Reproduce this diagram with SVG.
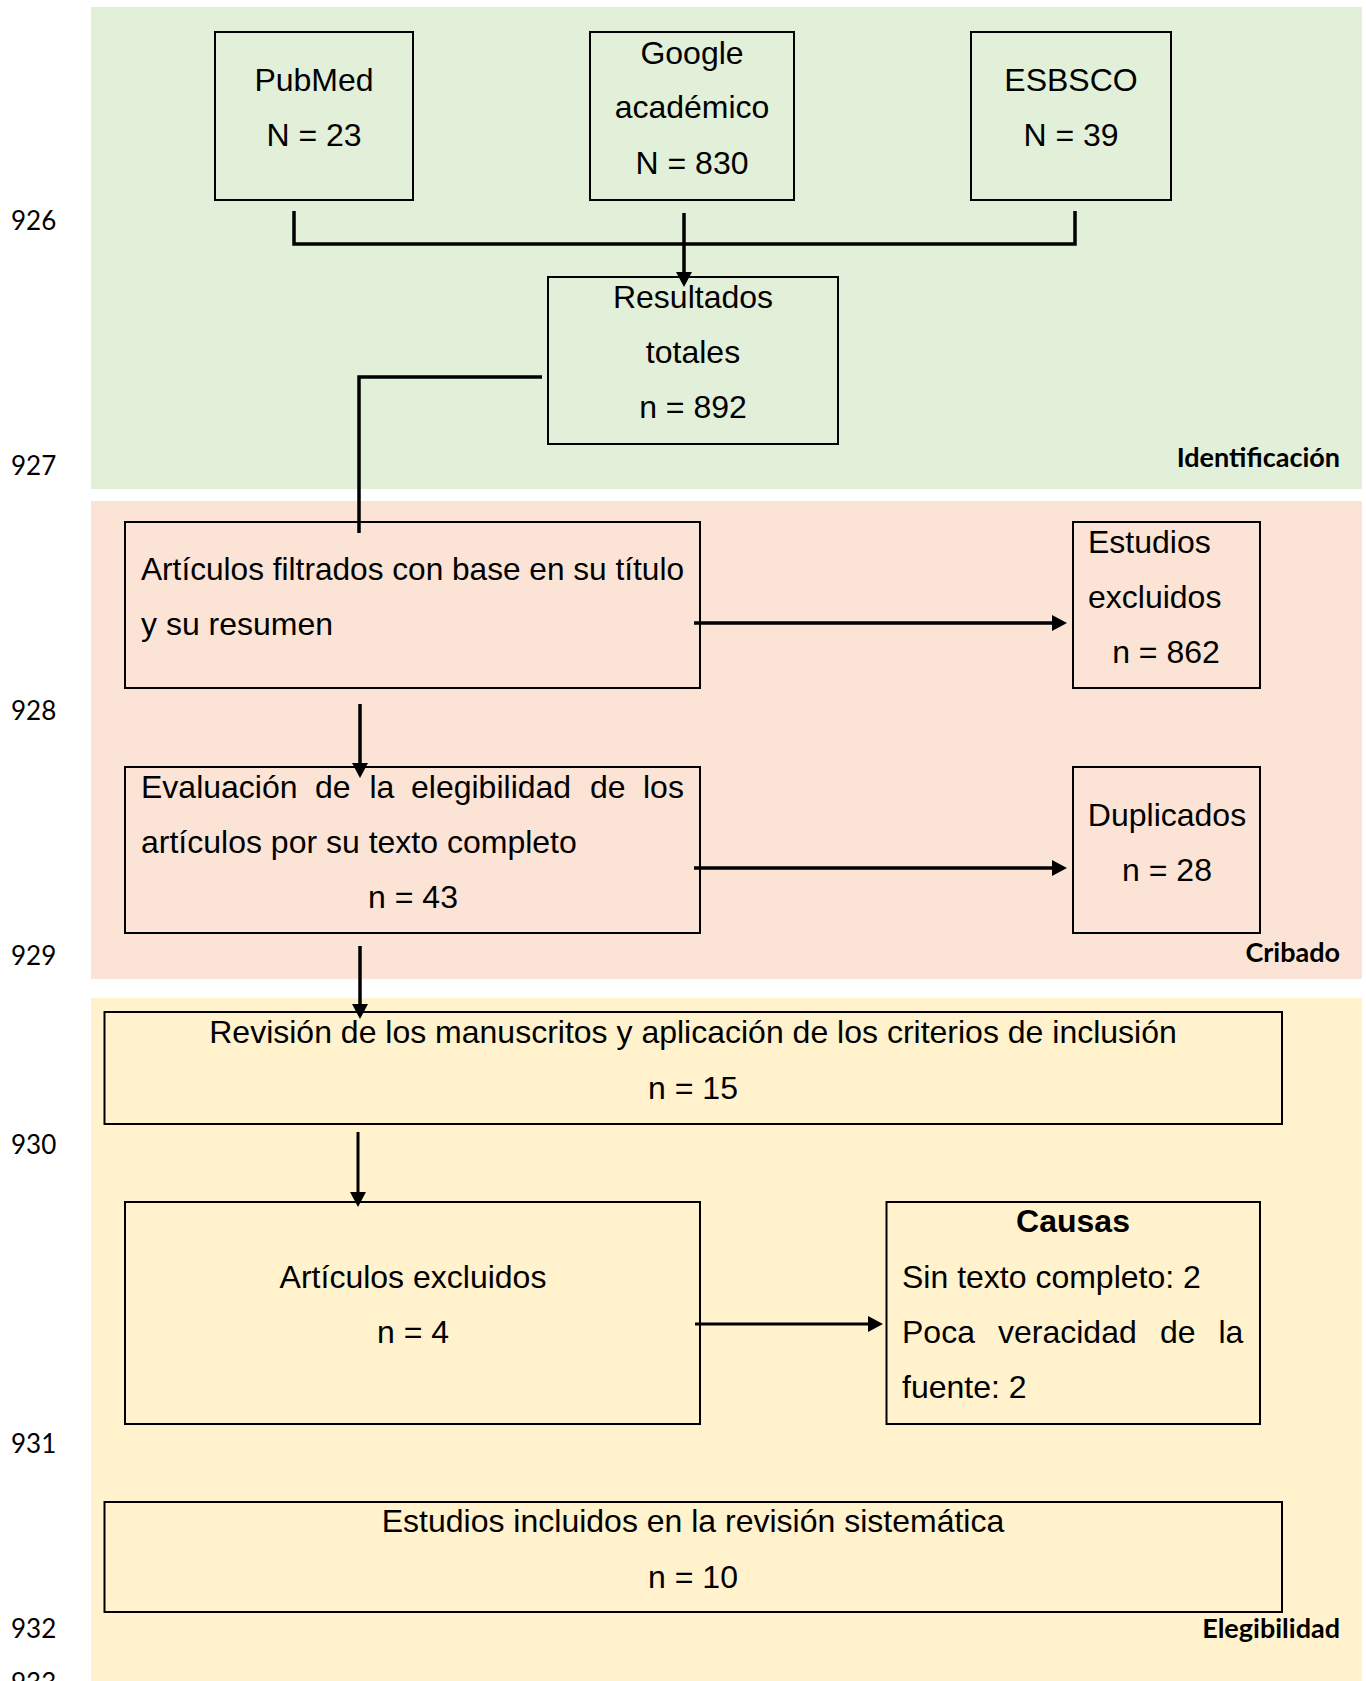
<svg xmlns="http://www.w3.org/2000/svg" width="1366" height="1681" viewBox="0 0 1366 1681">
<style>
.t{font-family:"Liberation Sans",Arial,sans-serif;font-size:32px;fill:#000}
.c{text-anchor:middle}
.b{font-weight:bold}
.lab{font-family:Lato,"Liberation Sans",sans-serif;font-size:27px;font-weight:bold;text-anchor:end;fill:#000}
.num{font-family:Lato,"Liberation Sans",sans-serif;font-size:26px;fill:#000}
.box{fill:none;stroke:#000;stroke-width:2}
.ln{fill:none;stroke:#000;stroke-width:3.5}
.ar{fill:none;stroke:#000;stroke-width:3.5;marker-end:url(#ah)}
.ar2{fill:none;stroke:#000;stroke-width:3;marker-end:url(#ah)}
</style>
<defs>
<marker id="ah" markerUnits="userSpaceOnUse" markerWidth="16" markerHeight="16" viewBox="0 0 16 16" refX="5" refY="8" orient="auto">
<path d="M0,0 L15,8 L0,16 z" fill="#000"/>
</marker>
</defs>
<rect width="1366" height="1681" fill="#fff"/>
<g id="panels">
<rect x="91" y="7" width="1271" height="482" fill="#E2EFD9"/>
<rect x="91" y="501" width="1271" height="478" fill="#FBE4D5"/>
<rect x="91" y="998" width="1271" height="683" fill="#FFF2CC"/>
</g>
<g id="line-numbers">
<text class="num" x="11" y="230">926</text>
<text class="num" x="11" y="475">927</text>
<text class="num" x="11" y="720">928</text>
<text class="num" x="11" y="965">929</text>
<text class="num" x="11" y="1154">930</text>
<text class="num" x="11" y="1453">931</text>
<text class="num" x="11" y="1638">932</text>
<text class="num" x="11" y="1692">933</text>
</g>
<g id="stage-labels">
<text class="lab" x="1340" y="467">Identificación</text>
<text class="lab" x="1340" y="962">Cribado</text>
<text class="lab" x="1340" y="1638">Elegibilidad</text>
</g>
<g id="pubmed">
<rect class="box" x="215" y="32" width="198" height="168"/>
<text class="t c" x="314" y="91">PubMed</text>
<text class="t c" x="314" y="146">N = 23</text>
</g>
<g id="google">
<rect class="box" x="590" y="32" width="204" height="168"/>
<text class="t c" x="692" y="64">Google</text>
<text class="t c" x="692" y="118">académico</text>
<text class="t c" x="692" y="174">N = 830</text>
</g>
<g id="esbsco">
<rect class="box" x="971" y="32" width="200" height="168"/>
<text class="t c" x="1071" y="91">ESBSCO</text>
<text class="t c" x="1071" y="146">N = 39</text>
</g>
<g id="resultados">
<rect class="box" x="548" y="277" width="290" height="167"/>
<text class="t c" x="693" y="308">Resultados</text>
<text class="t c" x="693" y="363">totales</text>
<text class="t c" x="693" y="418">n = 892</text>
</g>
<g id="filtrados">
<rect class="box" x="125" y="522" width="575" height="166"/>
<text class="t" x="141" y="580" textLength="543" lengthAdjust="spacingAndGlyphs">Artículos filtrados con base en su título</text>
<text class="t" x="141" y="635">y su resumen</text>
</g>
<g id="estudios-excluidos">
<rect class="box" x="1073" y="522" width="187" height="166"/>
<text class="t" x="1088" y="553">Estudios</text>
<text class="t" x="1088" y="608">excluidos</text>
<text class="t c" x="1166" y="663">n = 862</text>
</g>
<g id="evaluacion">
<rect class="box" x="125" y="767" width="575" height="166"/>
<text class="t" y="798"><tspan x="141">Evaluación</tspan><tspan x="315">de</tspan><tspan x="369.5">la</tspan><tspan x="411">elegibilidad</tspan><tspan x="590">de</tspan><tspan x="643">los</tspan></text>
<text class="t" x="141" y="853">artículos por su texto completo</text>
<text class="t c" x="413" y="908">n = 43</text>
</g>
<g id="duplicados">
<rect class="box" x="1073" y="767" width="187" height="166"/>
<text class="t c" x="1167" y="826">Duplicados</text>
<text class="t c" x="1167" y="881">n = 28</text>
</g>
<g id="revision">
<rect class="box" x="104.5" y="1012" width="1177.5" height="112"/>
<text class="t c" x="693" y="1043">Revisión de los manuscritos y aplicación de los criterios de inclusión</text>
<text class="t c" x="693" y="1099">n = 15</text>
</g>
<g id="articulos-excluidos">
<rect class="box" x="125" y="1202" width="575" height="222"/>
<text class="t c" x="413" y="1288">Artículos excluidos</text>
<text class="t c" x="413" y="1343">n = 4</text>
</g>
<g id="causas">
<rect class="box" x="886.5" y="1202" width="373.5" height="222"/>
<text class="t c b" x="1073" y="1232">Causas</text>
<text class="t" x="902" y="1288">Sin texto completo: 2</text>
<text class="t" y="1343"><tspan x="902">Poca</tspan><tspan x="998">veracidad</tspan><tspan x="1160">de</tspan><tspan x="1218.5">la</tspan></text>
<text class="t" x="902" y="1398">fuente: 2</text>
</g>
<g id="incluidos">
<rect class="box" x="104.5" y="1502" width="1177.5" height="110"/>
<text class="t c" x="693" y="1532">Estudios incluidos en la revisión sistemática</text>
<text class="t c" x="693" y="1588">n = 10</text>
</g>
<g id="connectors">
<polyline class="ln" points="294,211 294,244 1075,244 1075,211"/>
<line class="ar" x1="684" y1="213" x2="684" y2="277"/>
<polyline class="ln" points="542,377 359,377 359,533"/>
<line class="ar" x1="694" y1="623" x2="1057" y2="623"/>
<line class="ar" x1="360" y1="704" x2="360" y2="768"/>
<line class="ar" x1="694" y1="868" x2="1057" y2="868"/>
<line class="ar" x1="360" y1="946" x2="360" y2="1009"/>
<line class="ar2" x1="358" y1="1132" x2="358" y2="1197"/>
<line class="ar2" x1="695" y1="1324" x2="873" y2="1324"/>
</g>
</svg>
